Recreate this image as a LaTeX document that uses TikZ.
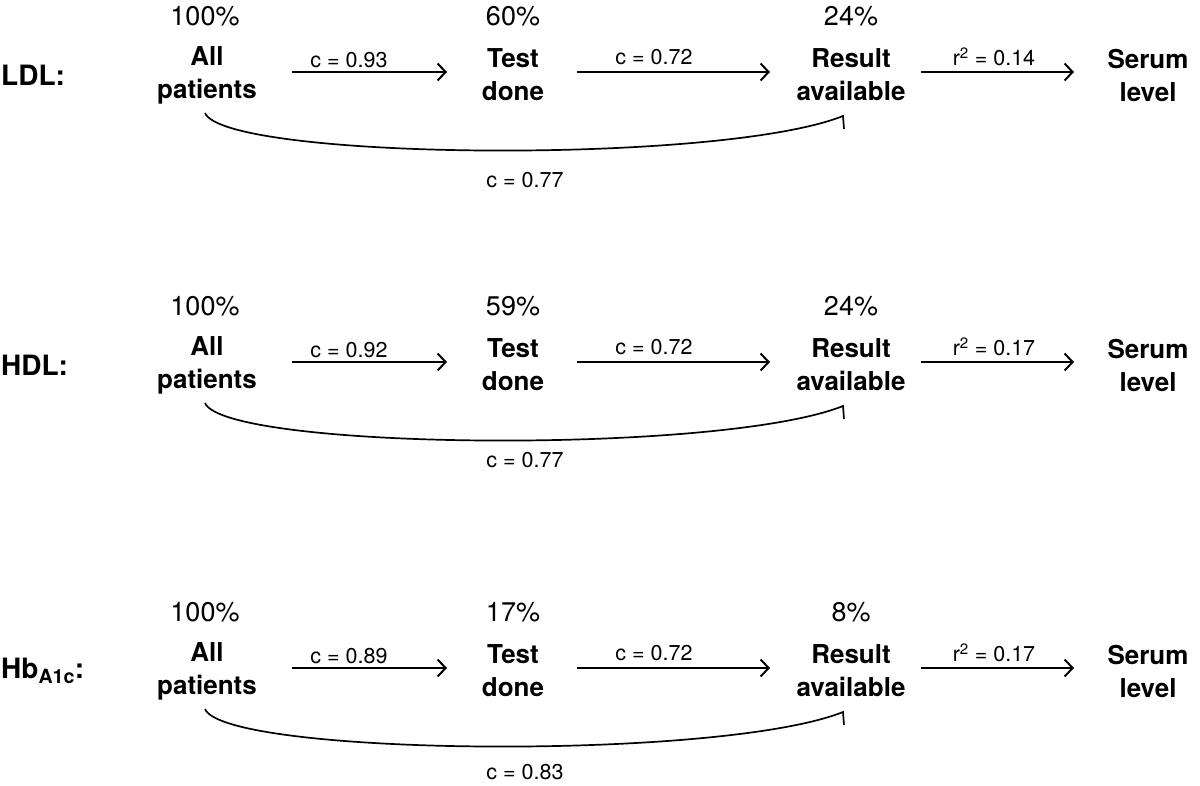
\documentclass[tikz,border=0pt]{standalone}
\usepackage{fontspec}
\setmainfont{TeX Gyre Heros}
\usetikzlibrary{arrows.meta}
\begin{document}
\begin{tikzpicture}[x=1pt,y=-1pt,
  box/.style={font=\fontsize{26}{33}\selectfont\bfseries,align=center,inner sep=0pt},
  pct/.style={font=\fontsize{27}{30}\selectfont,inner sep=0pt},
  lab/.style={font=\fontsize{21.5}{24}\selectfont,inner sep=0pt},
  rowlab/.style={font=\fontsize{28}{30}\selectfont\bfseries,inner sep=0pt,anchor=west},
  arr/.style={line width=1.8pt,-{Straight Barb[length=8pt,width=17pt,line width=2pt]}},
  curv/.style={line width=1.7pt}]
\useasboundingbox (0,0) rectangle (1200,785);
\foreach \r/\dy/\nm/\pb/\pc/\ca/\cb/\rr/\cc/\ly in {
  1/0/{LDL:}/60\%/24\%/0.93/0.72/0.14/0.77/0,
  2/290/{HDL:}/59\%/24\%/0.92/0.72/0.17/0.77/-10,
  3/596/{Hb\textsubscript{A1c}:}/17\%/8\%/0.89/0.72/0.17/0.83/-4}{
  \begin{scope}[yshift=-\dy pt]
  \node[rowlab] (row\r) at (1,75) {\nm};
  \node[pct] (pa\r) at (205,16) {100\%};
  \node[pct] (pb\r) at (513,16) {\pb};
  \node[pct] (pc\r) at (851,16) {\pc};
  \node[box] (all\r) at (207,75) {All\\patients};
  \node[box] (test\r) at (513,75) {Test\\done};
  \node[box] (res\r) at (851,75) {Result\\available};
  \node[box] (ser\r) at (1148,75) {Serum\\level};
  \coordinate (s1\r) at (292,72); \coordinate (e1\r) at (447,72);
  \coordinate (s2\r) at (577,72); \coordinate (e2\r) at (770,72);
  \coordinate (s3\r) at (921,72); \coordinate (e3\r) at (1074,72);
  \draw[arr] (s1\r) -- (e1\r);
  \draw[arr] (s2\r) -- (e2\r);
  \draw[arr] (s3\r) -- (e3\r);
  \node[lab] (la\r) at (349,60) {c = \ca};
  \node[lab] (lb\r) at (654,57) {c = \cb};
  \node[lab] (lc\r) at (994,57) {r\textsuperscript{2} = \rr};
  \coordinate (cs\r) at (205,113);
  \coordinate (ce\r) at (843,116);
  \coordinate (ct\r) at (844,129);
  \draw[curv] (cs\r) .. controls (225,160) and (720,165) .. (ce\r) -- (ct\r);
  \node[lab] (ld\r) at (525,180+\ly) {c = \cc};
  \end{scope}
}
\end{tikzpicture}
\end{document}
